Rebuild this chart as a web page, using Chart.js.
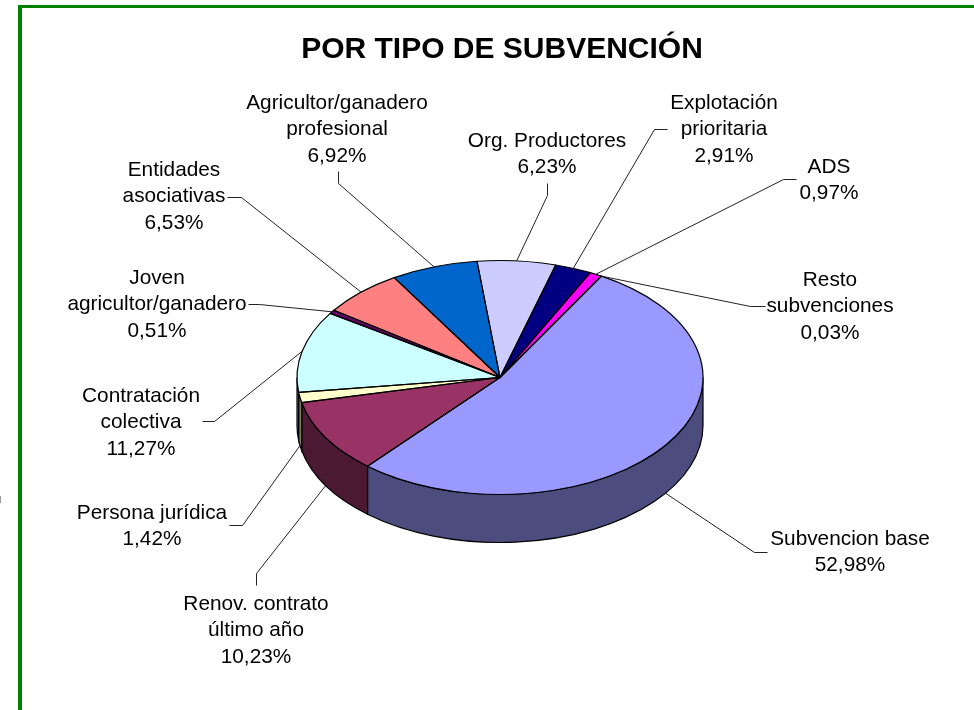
<!DOCTYPE html>
<html>
<head>
<meta charset="utf-8">
<script src="https://cdn.jsdelivr.net/npm/chart.js@4"></script>
<style>
  html, body { margin: 0; padding: 0; background: #fff; overflow: hidden; }
  #marco { position: absolute; left: 18px; top: 5px; right: 0; bottom: 0; border-left: 4px solid #008000; border-top: 3px solid #008000; }
  #marca { position: absolute; left: 0; top: 496px; width: 1px; height: 7px; background: #999; }
  #myChart { position: absolute; left: 0; top: 0; }
</style>
</head>
<body>
<div id="marco"></div>
<div id="marca"></div>
<canvas id="myChart" width="974" height="710"></canvas>
<script>
/* Datos */
const titulo = 'POR TIPO DE SUBVENCIÓN';
const categorias = [
  'Subvencion base',
  'Renov. contrato último año',
  'Persona jurídica',
  'Contratación colectiva',
  'Joven agricultor/ganadero',
  'Entidades asociativas',
  'Agricultor/ganadero profesional',
  'Org. Productores',
  'Explotación prioritaria',
  'ADS',
  'Resto subvenciones'
];
const valores = [52.98, 10.23, 1.42, 11.27, 0.51, 6.53, 6.92, 6.23, 2.91, 0.97, 0.03];
const colores = ['#9999FF', '#993366', '#FFFFCC', '#CCFFFF', '#660066', '#FF8080', '#0066CC', '#CCCCFF', '#000080', '#FF00FF', '#FFFF00'];

/* Etiquetas: lineas de texto, centro x, y de la primera linea, y codo de la guia */
const etiquetas = [
  { lineas: ['Subvencion base'], x: 850, y: 539, guia: [[767, 552], [754, 552]] },
  { lineas: ['Renov. contrato', 'último año'], x: 256, y: 604, guia: [[256, 585], [256, 573]] },
  { lineas: ['Persona jurídica'], x: 152, y: 513, guia: [[229, 525], [242, 525]] },
  { lineas: ['Contratación', 'colectiva'], x: 141, y: 396, guia: [[202, 421], [214, 421]] },
  { lineas: ['Joven', 'agricultor/ganadero'], x: 157, y: 278, guia: [[248, 304], [259, 304]] },
  { lineas: ['Entidades', 'asociativas'], x: 174, y: 170, guia: [[227, 197], [241, 197]] },
  { lineas: ['Agricultor/ganadero', 'profesional'], x: 337, y: 103, guia: [[338, 171], [338, 183]] },
  { lineas: ['Org. Productores'], x: 547, y: 141, guia: [[547, 183], [547, 195]] },
  { lineas: ['Explotación', 'prioritaria'], x: 724, y: 103, guia: [[667, 129], [654, 129]] },
  { lineas: ['ADS'], x: 829, y: 167, guia: [[796, 179], [783, 179]] },
  { lineas: ['Resto', 'subvenciones'], x: 830, y: 280, guia: [[765, 306], [750, 306]] }
];

/* Geometria de la tarta en perspectiva */
const radioY = 117;
const fondo = 48;
const aplastado = radioY / 203;

function oscurecer(hex) {
  const n = parseInt(hex.slice(1), 16);
  return 'rgb(' + ((n >> 16) >> 1) + ',' + (((n >> 8) & 255) >> 1) + ',' + ((n & 255) >> 1) + ')';
}

function porcentaje(v) {
  return v.toFixed(2).replace('.', ',') + '%';
}

/* Lado visible de cada porcion y perfil, antes de dibujar la cara superior */
const tarta3d = {
  id: 'tarta3d',
  beforeDatasetsDraw(chart) {
    const ctx = chart.ctx;
    chart.getDatasetMeta(0).data.forEach(function (arc, i) {
      const p = arc.getProps(['x', 'y', 'startAngle', 'endAngle', 'outerRadius'], true);
      [0, -2 * Math.PI].forEach(function (vuelta) {
        const a = Math.max(p.startAngle + vuelta, 0);
        const b = Math.min(p.endAngle + vuelta, Math.PI);
        if (b <= a) return;
        ctx.save();
        ctx.beginPath();
        ctx.ellipse(p.x, p.y, p.outerRadius, radioY, 0, a, b);
        ctx.ellipse(p.x, p.y + fondo, p.outerRadius, radioY, 0, b, a, true);
        ctx.closePath();
        ctx.fillStyle = oscurecer(colores[i]);
        ctx.fill();
        ctx.lineWidth = 1.2;
        ctx.strokeStyle = '#000';
        ctx.stroke();
        ctx.restore();
      });
    });
    ctx.save();
    ctx.translate(0, chart.getDatasetMeta(0).data[0].y);
    ctx.scale(1, aplastado);
    ctx.translate(0, -chart.getDatasetMeta(0).data[0].y);
  },
  afterDatasetsDraw(chart) {
    const ctx = chart.ctx;
    ctx.restore();
    chart.getDatasetMeta(0).data.forEach(function (arc) {
      const p = arc.getProps(['x', 'y', 'startAngle', 'endAngle', 'outerRadius'], true);
      ctx.save();
      ctx.beginPath();
      ctx.moveTo(p.x, p.y);
      ctx.ellipse(p.x, p.y, p.outerRadius, radioY, 0, p.startAngle, p.endAngle);
      ctx.closePath();
      ctx.lineWidth = 1.2;
      ctx.lineJoin = 'round';
      ctx.strokeStyle = '#000';
      ctx.stroke();
      ctx.restore();
    });
  },
  afterDraw(chart) {
    const ctx = chart.ctx;
    ctx.save();
    ctx.fillStyle = '#000';
    ctx.textAlign = 'center';
    ctx.textBaseline = 'middle';
    ctx.font = 'bold 30px "Liberation Sans"';
    ctx.fillText(titulo, 502, 50);

    chart.getDatasetMeta(0).data.forEach(function (arc, i) {
      const p = arc.getProps(['x', 'y', 'startAngle', 'endAngle', 'outerRadius'], true);
      const medio = (p.startAngle + p.endAngle) / 2;
      const e = etiquetas[i];

      ctx.beginPath();
      ctx.moveTo(e.guia[0][0] + 0.5, e.guia[0][1] + 0.5);
      ctx.lineTo(e.guia[1][0] + 0.5, e.guia[1][1] + 0.5);
      ctx.lineTo(p.x + p.outerRadius * Math.cos(medio),
                 p.y + radioY * Math.sin(medio) + (Math.sin(medio) > 0 ? fondo : 0));
      ctx.lineWidth = 1;
      ctx.strokeStyle = '#222';
      ctx.stroke();

      ctx.font = '20.8px "Liberation Sans"';
      e.lineas.concat([porcentaje(valores[i])]).forEach(function (t, n) {
        ctx.fillText(t, e.x, e.y + n * 26.6);
      });
    });
    ctx.restore();
  }
};

const data1 = {
  labels: categorias,
  datasets: [{
    data: valores,
    backgroundColor: colores,
    borderWidth: 0,
    clip: false
  }]
};

const config1 = {
  type: 'pie',
  data: data1,
  options: {
    responsive: false,
    animation: false,
    rotation: 30,
    radius: 203,
    layout: { padding: { left: 297, right: 271, top: 174, bottom: 129 } },
    plugins: {
      legend: { display: false },
      tooltip: { enabled: false },
      title: { display: false }
    }
  },
  plugins: [tarta3d]
};

const myChart = new Chart(document.getElementById('myChart'), config1);
</script>
</body>
</html>
